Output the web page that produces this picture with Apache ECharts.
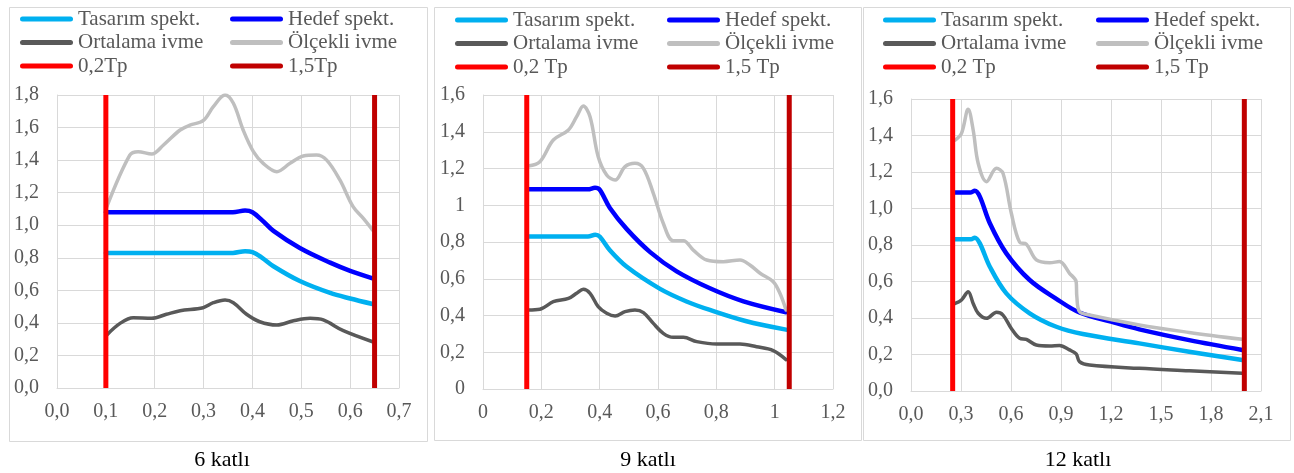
<!DOCTYPE html>
<html>
<head>
<meta charset="utf-8">
<script src="https://cdn.jsdelivr.net/npm/echarts@6/dist/echarts.min.js"></script>
<style>
html,body{margin:0;padding:0;background:#fff;}
#c{width:1294px;height:473px;}
</style>
</head>
<body>
<div id="c"></div>
<script>
// ---------- Data ----------
const panelTitles = ['6 katlı', '9 katlı', '12 katlı'];
const seriesNames = ['Tasarım spekt.', 'Hedef spekt.', 'Ortalama ivme', 'Ölçekli ivme'];
const tpNames6 = ['0,2Tp', '1,5Tp'];
const tpNames = ['0,2 Tp', '1,5 Tp'];

// tick labels
const xLabels6 = ['0,0','0,1','0,2','0,3','0,4','0,5','0,6','0,7'];
const yLabels6 = ['0,0','0,2','0,4','0,6','0,8','1,0','1,2','1,4','1,6','1,8'];
const xLabels9 = ['0','0,2','0,4','0,6','0,8','1','1,2'];
const yLabels9 = ['0','0,2','0,4','0,6','0,8','1','1,2','1,4','1,6'];
const xLabels12 = ['0,0','0,3','0,6','0,9','1,2','1,5','1,8','2,1'];
const yLabels12 = ['0,0','0,2','0,4','0,6','0,8','1,0','1,2','1,4','1,6'];

// axis ranges
const xMax = [0.7, 1.2, 2.1];
const xStep = [0.1, 0.2, 0.3];
const yMax = [1.8, 1.6, 1.6];
const yStep = [0.2, 0.2, 0.2];

// 0,2Tp and 1,5Tp periods
const tp02 = [0.1, 0.15, 0.25];
const tp15 = [0.65, 1.05, 2.0];

// 6 katlı
const tasarim6 = [[0.1,0.83],[0.2,0.83],[0.3,0.83],[0.36,0.83],[0.385,0.84],[0.40,0.835],[0.42,0.80],[0.443,0.748],[0.497,0.657],[0.559,0.584],[0.60,0.55],[0.646,0.516]];
const hedef6 = [[0.1,1.08],[0.2,1.08],[0.3,1.08],[0.36,1.08],[0.385,1.09],[0.40,1.08],[0.42,1.03],[0.443,0.965],[0.497,0.86],[0.559,0.77],[0.60,0.72],[0.646,0.674]];
const ortalama6 = [[0.102,0.326],[0.129,0.397],[0.156,0.432],[0.194,0.428],[0.224,0.453],[0.252,0.475],[0.299,0.493],[0.320,0.524],[0.344,0.541],[0.361,0.524],[0.388,0.453],[0.415,0.407],[0.450,0.387],[0.484,0.413],[0.518,0.428],[0.545,0.418],[0.586,0.352],[0.646,0.284]];
const olcekli6 = [[0.102,1.114],[0.149,1.431],[0.166,1.452],[0.194,1.437],[0.218,1.493],[0.252,1.585],[0.272,1.615],[0.299,1.642],[0.320,1.728],[0.344,1.80],[0.361,1.749],[0.381,1.585],[0.402,1.452],[0.422,1.38],[0.450,1.329],[0.477,1.38],[0.504,1.425],[0.531,1.431],[0.552,1.40],[0.579,1.278],[0.606,1.114],[0.627,1.042],[0.646,0.97]];

// 9 katlı
const tasarim9 = [[0.155,0.83],[0.25,0.83],[0.36,0.83],[0.385,0.84],[0.40,0.83],[0.435,0.755],[0.493,0.665],[0.607,0.545],[0.70,0.475],[0.778,0.43],[0.90,0.37],[1.039,0.323]];
const hedef9 = [[0.155,1.087],[0.25,1.087],[0.36,1.087],[0.384,1.095],[0.40,1.085],[0.435,0.985],[0.493,0.87],[0.573,0.745],[0.664,0.64],[0.778,0.548],[0.893,0.477],[1.039,0.418]];
const ortalama9 = [[0.155,0.43],[0.195,0.434],[0.241,0.475],[0.293,0.493],[0.321,0.521],[0.344,0.543],[0.367,0.521],[0.395,0.448],[0.424,0.412],[0.453,0.397],[0.487,0.421],[0.521,0.43],[0.55,0.416],[0.584,0.357],[0.618,0.303],[0.652,0.281],[0.687,0.281],[0.733,0.258],[0.801,0.245],[0.881,0.245],[0.938,0.23],[0.995,0.209],[1.039,0.16]];
const olcekli9 = [[0.155,1.214],[0.195,1.237],[0.241,1.355],[0.293,1.41],[0.321,1.482],[0.344,1.54],[0.367,1.482],[0.395,1.264],[0.424,1.165],[0.453,1.137],[0.487,1.21],[0.521,1.228],[0.55,1.201],[0.584,1.065],[0.618,0.902],[0.652,0.807],[0.687,0.807],[0.721,0.756],[0.767,0.702],[0.824,0.693],[0.881,0.702],[0.915,0.675],[0.95,0.63],[0.995,0.584],[1.018,0.521],[1.039,0.43]];

// 12 katlı
const tasarim12 = [[0.265,0.831],[0.33,0.831],[0.36,0.831],[0.383,0.84],[0.413,0.809],[0.473,0.681],[0.572,0.535],[0.712,0.426],[0.872,0.352],[1.031,0.312],[1.37,0.261],[1.669,0.215],[1.988,0.17]];
const hedef12 = [[0.265,1.087],[0.33,1.087],[0.355,1.087],[0.383,1.097],[0.413,1.065],[0.473,0.919],[0.572,0.754],[0.712,0.608],[0.872,0.505],[1.011,0.43],[1.2,0.38],[1.37,0.338],[1.669,0.279],[1.988,0.225]];
const ortalama12 = [[0.265,0.48],[0.303,0.499],[0.343,0.544],[0.373,0.48],[0.403,0.426],[0.453,0.398],[0.513,0.431],[0.552,0.416],[0.602,0.343],[0.652,0.289],[0.692,0.283],[0.752,0.252],[0.832,0.247],[0.891,0.249],[0.951,0.225],[0.991,0.203],[1.011,0.161],[1.071,0.142],[1.37,0.124],[1.669,0.111],[1.988,0.097]];
const olcekli12 = [[0.265,1.375],[0.303,1.412],[0.343,1.544],[0.373,1.43],[0.403,1.248],[0.453,1.147],[0.513,1.22],[0.552,1.193],[0.602,0.974],[0.652,0.815],[0.692,0.805],[0.752,0.718],[0.832,0.703],[0.891,0.709],[0.951,0.645],[0.991,0.599],[0.995,0.517],[1.011,0.435],[1.071,0.416],[1.37,0.362],[1.669,0.321],[1.988,0.283]];

const panelData = [
  [tasarim6, hedef6, ortalama6, olcekli6],
  [tasarim9, hedef9, ortalama9, olcekli9],
  [tasarim12, hedef12, ortalama12, olcekli12]
];
const xLabelSets = [xLabels6, xLabels9, xLabels12];
const yLabelSets = [yLabels6, yLabels9, yLabels12];

// ---------- Styles / layout ----------
const colors = ['#00B0F0', '#0000FF', '#595959', '#BFBFBF'];
const widths = [4.5, 4.5, 3.5, 3.5];
const tpColors = ['#FF0000', '#C00000'];
const FONT = '"Liberation Serif", "Times New Roman", serif';
const grids = [
  {left: 57, top: 95, width: 342, height: 293},
  {left: 483, top: 95, width: 350, height: 294},
  {left: 911, top: 99, width: 350, height: 292}
];
const legendCols = [[20, 230], [455, 667], [883, 1096]];
const legendTop = [8.5, 9.5, 9.5];
const titleX = [222, 648, 1078];
const frames = [[9, 7, 418, 434], [434, 7, 427, 433], [863, 7, 427, 433]];

const capsule = 'path://M2.5,0 L50.5,0 A2.5,2.5 0 0 1 50.5,5 L2.5,5 A2.5,2.5 0 0 1 2.5,0 Z';

const xAxes = [], yAxes = [], series = [], legends = [], graphics = [];
for (let p = 0; p < 3; p++) {
  const xl = xLabelSets[p], yl = yLabelSets[p], xs = xStep[p], ys = yStep[p];
  xAxes.push({
    type: 'value', gridIndex: p, min: 0, max: xMax[p], interval: xs,
    axisLine: {show: true, lineStyle: {color: '#d9d9d9', width: 1}},
    axisTick: {show: false},
    splitLine: {show: true, lineStyle: {color: '#d9d9d9', width: 1}},
    axisLabel: {margin: 14, color: '#595959', fontFamily: FONT, fontSize: 20,
      formatter: v => xl[Math.round(v / xs)]}
  });
  yAxes.push({
    type: 'value', gridIndex: p, min: 0, max: yMax[p], interval: ys,
    axisLine: {show: true, lineStyle: {color: '#d9d9d9', width: 1}},
    axisTick: {show: false},
    splitLine: {show: true, lineStyle: {color: '#d9d9d9', width: 1}},
    axisLabel: {margin: 18, color: '#595959', fontFamily: FONT, fontSize: 20,
      formatter: v => yl[Math.round(v / ys)]}
  });
  const names = seriesNames.concat(p === 0 ? tpNames6 : tpNames);
  panelData[p].forEach((d, i) => {
    series.push({
      type: 'line', name: names[i], xAxisIndex: p, yAxisIndex: p, data: d,
      smooth: 0.35, symbol: 'none', color: colors[i],
      lineStyle: {color: colors[i], width: widths[i], cap: 'round', join: 'round'}
    });
  });
  [tp02[p], tp15[p]].forEach((t, i) => {
    series.push({
      type: 'line', name: names[4 + i], xAxisIndex: p, yAxisIndex: p,
      data: [[t, 0], [t, yMax[p]]], symbol: 'none', color: tpColors[i],
      lineStyle: {color: tpColors[i], width: 5}
    });
  });
  [[names[0], names[2], names[4]], [names[1], names[3], names[5]]].forEach((col, c) => {
    legends.push({
      orient: 'vertical', left: legendCols[p][c], top: legendTop[p], padding: 0,
      itemWidth: 53, itemHeight: 5, itemGap: 2.5, itemTextGap: 6,
      icon: capsule, data: col,
      textStyle: {fontFamily: FONT, fontSize: 21, lineHeight: 21, color: '#595959'}
    });
  });
  const f = frames[p];
  graphics.push({type: 'rect', silent: true, z: -10,
    shape: {x: f[0] + 0.5, y: f[1] + 0.5, width: f[2], height: f[3]},
    style: {fill: 'none', stroke: '#d9d9d9', lineWidth: 1}});
  graphics.push({type: 'text', x: titleX[p], y: 460, silent: true,
    style: {text: panelTitles[p], fontFamily: FONT, fontSize: 22, fill: '#000',
      textAlign: 'center', textVerticalAlign: 'middle'}});
}

const chart = echarts.init(document.getElementById('c'), null, {renderer: 'canvas'});
chart.setOption({
  animation: false,
  backgroundColor: '#fff',
  textStyle: {fontFamily: FONT},
  grid: grids,
  xAxis: xAxes,
  yAxis: yAxes,
  legend: legends,
  series: series,
  graphic: graphics
});
</script>
</body>
</html>
